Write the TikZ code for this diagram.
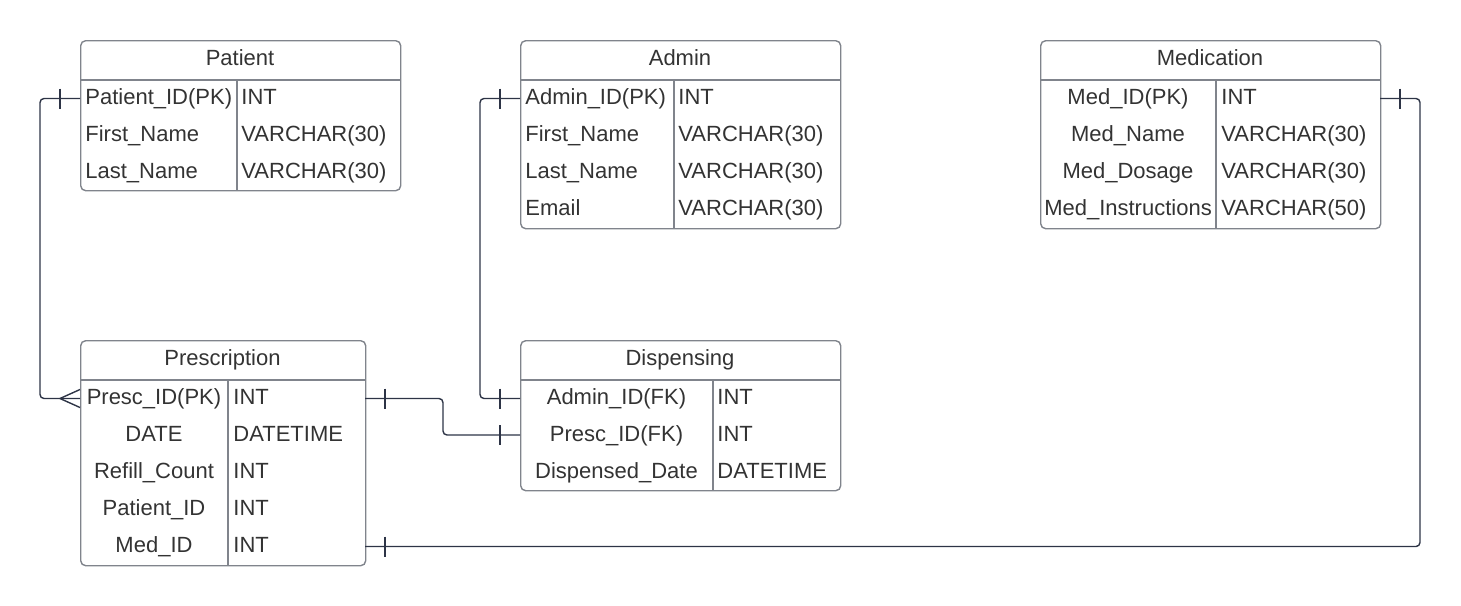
\documentclass[tikz,border=0pt]{standalone}
\usepackage{fontspec}
\setmainfont{Liberation Sans}
\usetikzlibrary{calc}
\definecolor{boxc}{RGB}{128,132,140}
\definecolor{linec}{RGB}{45,52,70}
\definecolor{txtc}{RGB}{51,51,51}
\begin{document}
\begin{tikzpicture}[x=0.5pt,y=-0.5pt,
 tbl/.style={draw=boxc, line width=0.7pt, rounded corners=2.5pt, inner sep=0pt, anchor=north west},
 sepl/.style={draw=boxc, line width=0.7pt},
 lt/.style={anchor=base west, inner sep=0pt, text=txtc, font=\fontsize{11}{13}\selectfont},
 ct/.style={anchor=base, inner sep=0pt, text=txtc, font=\fontsize{11}{13}\selectfont},
 rel/.style={draw=linec, line width=0.7pt, rounded corners=2pt},
 barl/.style={draw=linec, line width=0.7pt},
]
\useasboundingbox (0,0) rectangle (1461,605);

% ---------- Patient ----------
\node[tbl, minimum width=160pt, minimum height=75pt] (patient) at (80,40) {};
\draw[sepl] (80,80) -- (400,80);
\draw[sepl] (237,80) -- (237,190);
\node[ct] (patT) at (240,65) {Patient};
\node[lt] (pa1) at (85,104) {Patient\_ID(PK)};
\node[lt] (pb1) at (241,104) {INT};
\node[lt] (pa2) at (85,141) {First\_Name};
\node[lt] (pb2) at (241,141) {VARCHAR(30)};
\node[lt] (pa3) at (85,178) {Last\_Name};
\node[lt] (pb3) at (241,178) {VARCHAR(30)};

% ---------- Admin ----------
\node[tbl, minimum width=160pt, minimum height=94pt] (admin) at (520,40) {};
\draw[sepl] (520,80) -- (840,80);
\draw[sepl] (674,80) -- (674,228);
\node[ct] (admT) at (680,65) {Admin};
\node[lt] (aa1) at (525,104.5) {Admin\_ID(PK)};
\node[lt] (ab1) at (678,104.5) {INT};
\node[lt] (aa2) at (525,141.5) {First\_Name};
\node[lt] (ab2) at (678,141.5) {VARCHAR(30)};
\node[lt] (aa3) at (525,178.5) {Last\_Name};
\node[lt] (ab3) at (678,178.5) {VARCHAR(30)};
\node[lt] (aa4) at (525,215.5) {Email};
\node[lt] (ab4) at (678,215.5) {VARCHAR(30)};

% ---------- Medication ----------
\node[tbl, minimum width=170pt, minimum height=94pt] (medication) at (1040,40) {};
\draw[sepl] (1040,80) -- (1380,80);
\draw[sepl] (1216,80) -- (1216,228);
\node[ct] (medT) at (1210,65) {Medication};
\node[ct] (ma1) at (1128,104.5) {Med\_ID(PK)};
\node[lt] (mb1) at (1221,104.5) {INT};
\node[ct] (ma2) at (1128,141.5) {Med\_Name};
\node[lt] (mb2) at (1221,141.5) {VARCHAR(30)};
\node[ct] (ma3) at (1128,178.5) {Med\_Dosage};
\node[lt] (mb3) at (1221,178.5) {VARCHAR(30)};
\node[ct] (ma4) at (1128,215.5) {Med\_Instructions};
\node[lt] (mb4) at (1221,215.5) {VARCHAR(50)};

% ---------- Prescription ----------
\node[tbl, minimum width=142.5pt, minimum height=112.5pt] (prescription) at (80,340) {};
\draw[sepl] (80,380) -- (365,380);
\draw[sepl] (228,380) -- (228,565);
\node[ct] (preT) at (222.5,365) {Prescription};
\node[ct] (ra1) at (154,404.5) {Presc\_ID(PK)};
\node[lt] (rb1) at (233,404.5) {INT};
\node[ct] (ra2) at (154,441.5) {DATE};
\node[lt] (rb2) at (233,441.5) {DATETIME};
\node[ct] (ra3) at (154,478.5) {Refill\_Count};
\node[lt] (rb3) at (233,478.5) {INT};
\node[ct] (ra4) at (154,515.5) {Patient\_ID};
\node[lt] (rb4) at (233,515.5) {INT};
\node[ct] (ra5) at (154,552.5) {Med\_ID};
\node[lt] (rb5) at (233,552.5) {INT};

% ---------- Dispensing ----------
\node[tbl, minimum width=160pt, minimum height=75pt] (dispensing) at (520,340) {};
\draw[sepl] (520,380) -- (840,380);
\draw[sepl] (713,380) -- (713,490);
\node[ct] (disT) at (680,365) {Dispensing};
\node[ct] (da1) at (616.5,404) {Admin\_ID(FK)};
\node[lt] (db1) at (717,404) {INT};
\node[ct] (da2) at (616.5,441) {Presc\_ID(FK)};
\node[lt] (db2) at (717,441) {INT};
\node[ct] (da3) at (616.5,478) {Dispensed\_Date};
\node[lt] (db3) at (717,478) {DATETIME};

% ---------- attachment points ----------
\coordinate (patPK) at (80,98.5);
\coordinate (preL) at (80,398.5);
\coordinate (preR) at (365,398.5);
\coordinate (preMed) at (365,546.5);
\coordinate (admPK) at (520,98.5);
\coordinate (disA) at (520,398.5);
\coordinate (disP) at (520,435);
\coordinate (medPK) at (1380,98.5);

% Patient -> Prescription (one to many)
\draw[rel] (patPK) -- ++(-40,0) |- (preL);
\draw[barl] ($(patPK)+(-20,-10)$) -- ($(patPK)+(-20,10)$);
\draw[barl] ($(preL)+(-20,0)$) -- ($(preL)+(0,-9)$);
\draw[barl] ($(preL)+(-20,0)$) -- ($(preL)+(0,9)$);

% Admin -> Dispensing
\draw[rel] (admPK) -- ++(-40,0) |- (disA);
\draw[barl] ($(admPK)+(-20,-10)$) -- ($(admPK)+(-20,10)$);
\draw[barl] ($(disA)+(-20,-10)$) -- ($(disA)+(-20,10)$);

% Prescription -> Dispensing
\draw[rel] (preR) -- ($(preR)+(78,0)$) |- (disP);
\draw[barl] ($(preR)+(20,-10)$) -- ($(preR)+(20,10)$);
\draw[barl] ($(disP)+(-20,-10)$) -- ($(disP)+(-20,10)$);

% Prescription -> Medication
\draw[rel] (preMed) -| ($(medPK)+(40,0)$) -- (medPK);
\draw[barl] ($(preMed)+(20,-10)$) -- ($(preMed)+(20,10)$);
\draw[barl] ($(medPK)+(20,-10)$) -- ($(medPK)+(20,10)$);
\end{tikzpicture}
\end{document}
